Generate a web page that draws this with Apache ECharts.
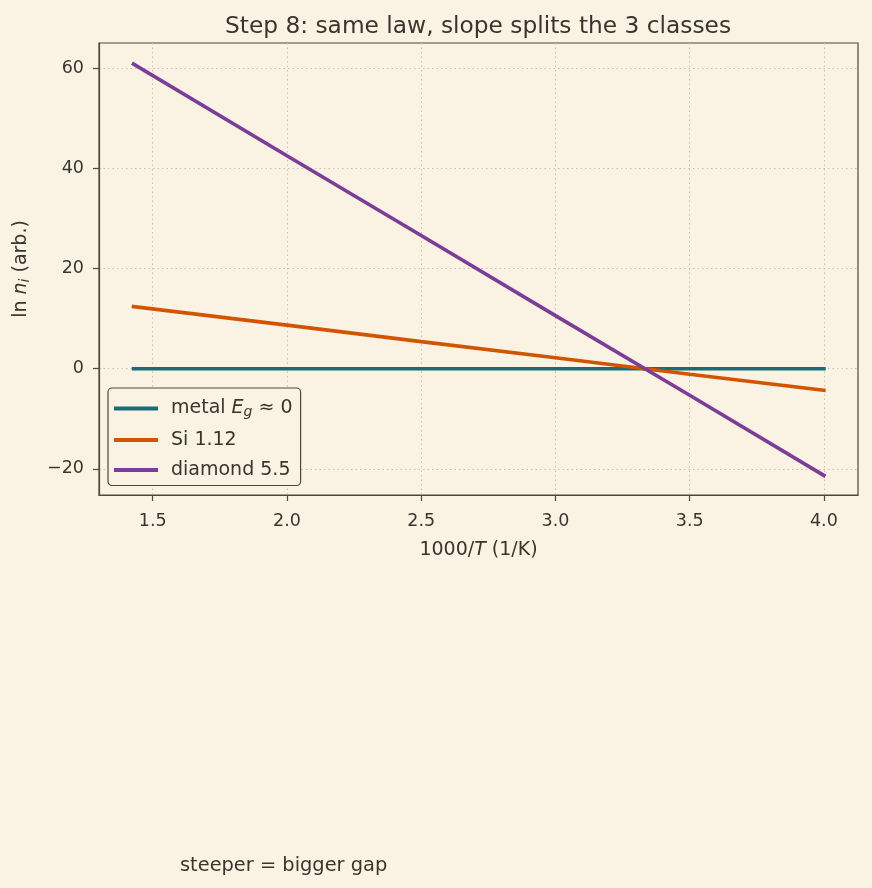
<!DOCTYPE html>
<html>
<head>
<meta charset="utf-8">
<style>
	html, body { margin: 0; padding: 0; background: #faf3e3; }
	#chart { width: 872px; height: 888px; }
</style>
<script src="https://cdn.jsdelivr.net/npm/echarts@6/dist/echarts.min.js"></script>
</head>
<body>
<div id="chart"></div>
<script>
// 1000/T values (1/K)
const invT = [1.4286, 2.0, 2.5, 3.0, 3.5, 4.0];
// ln n_i
const metal = [0, 0, 0, 0, 0, 0];
const si = [12.4, 8.7, 5.4, 2.2, -1.1, -4.3];
const diamond = [60.8, 42.5, 26.6, 10.6, -5.3, -21.3];
const xTicks = [1.5, 2.0, 2.5, 3.0, 3.5, 4.0];
const yTicks = [-20, 0, 20, 40, 60];

const ink = "#3b342d";
const axisCol = "#4f463c";
const font = "DejaVu Sans";

function pairs(ys) {
	return invT.map((x, i) => [x, ys[i]]);
}

let myChart = echarts.init(document.getElementById("chart"));
let lineStyleFor = (c) => ({ color: c, width: 3.6, cap: "square" });

let option = {
	backgroundColor: "#faf3e3",
	textStyle: { fontFamily: font, color: ink },
	animation: false,
	title: {
		text: "Step 8: same law, slope splits the 3 classes",
		left: 473,
		textAlign: "center",
		top: 10,
		textStyle: { fontFamily: font, fontSize: 23.3, fontWeight: "normal", color: ink }
	},
	grid: {
		left: 99,
		top: 43,
		right: 14,
		bottom: 393,
		show: true,
		borderColor: axisCol,
		borderWidth: 1.2,
		backgroundColor: "transparent"
	},
	legend: {
		orient: "vertical",
		left: 108,
		top: 388,
		itemWidth: 44,
		itemHeight: 4,
		itemGap: 11,
		icon: "rect",
		padding: [11, 8, 6, 6],
		backgroundColor: "#faf3e3",
		borderColor: axisCol,
		borderWidth: 1.2,
		borderRadius: 4,
		textStyle: {
			fontFamily: font,
			fontSize: 19,
			color: ink,
			padding: [0, 0, 0, 8],
			rich: {
				it: { fontFamily: font, fontSize: 19, fontStyle: "italic", color: ink },
				sub: { fontFamily: font, fontSize: 14, fontStyle: "italic", color: ink, padding: [8, 0, 0, 0] }
			}
		},
		formatter: function (name) {
			if (name === "metal") return "metal {it|E}{sub|g} ≈ 0";
			return name;
		},
		data: ["metal", "Si 1.12", "diamond 5.5"]
	},
	xAxis: {
		type: "value",
		min: 1.3,
		max: 4.127,
		name: "1000/{i|T} (1/K)",
		nameLocation: "middle",
		nameGap: 46,
		nameTextStyle: {
			fontFamily: font,
			fontSize: 19,
			color: ink,
			rich: {
				i: { fontFamily: font, fontSize: 19, fontStyle: "italic", color: ink }
			}
		},
		axisLine: { show: true, onZero: false, lineStyle: { color: axisCol, width: 1.2 } },
		axisTick: { show: true, length: 6, customValues: xTicks, lineStyle: { color: axisCol, width: 1.2 } },
		axisLabel: {
			customValues: xTicks,
			fontFamily: font,
			fontSize: 17.5,
			color: ink,
			margin: 17,
			formatter: (v) => v.toFixed(1)
		},
		splitLine: { show: true, lineStyle: { color: "#c9c0ae", type: [1.5, 3], width: 1 } }
	},
	yAxis: {
		type: "value",
		min: -25.2,
		max: 65,
		name: "{t|ln }{i|n}{s|i}{t| (arb.)}",
		nameLocation: "middle",
		nameGap: 67,
		nameRotate: 90,
		nameTextStyle: {
			fontFamily: font,
			fontSize: 19,
			color: ink,
			rich: {
				t: { fontFamily: font, fontSize: 19, color: ink },
				i: { fontFamily: font, fontSize: 19, fontStyle: "italic", color: ink },
				s: { fontFamily: font, fontSize: 14, fontStyle: "italic", color: ink, padding: [8, 0, 0, 0] }
			}
		},
		axisLine: { show: true, onZero: false, lineStyle: { color: axisCol, width: 1.2 } },
		axisTick: { show: true, length: 6, customValues: yTicks, lineStyle: { color: axisCol, width: 1.2 } },
		axisLabel: {
			customValues: yTicks,
			fontFamily: font,
			fontSize: 17.5,
			color: ink,
			margin: 15,
			formatter: (v) => (v < 0 ? "\u2212" + Math.abs(v) : String(v))
		},
		splitLine: { show: true, lineStyle: { color: "#c9c0ae", type: [1.5, 3], width: 1 } }
	},
	graphic: [
		{
			type: "text",
			left: 180,
			top: 856,
			style: { text: "steeper = bigger gap", font: "19.4px 'DejaVu Sans'", fill: ink }
		}
	],
	series: [
		{ name: "metal", type: "line", data: pairs(metal), symbol: "none", lineStyle: lineStyleFor("#1a6b73"), itemStyle: { color: "#1a6b73" }, z: 3 },
		{ name: "Si 1.12", type: "line", data: pairs(si), symbol: "none", lineStyle: lineStyleFor("#d35400"), itemStyle: { color: "#d35400" }, z: 4 },
		{ name: "diamond 5.5", type: "line", data: pairs(diamond), symbol: "none", lineStyle: lineStyleFor("#7d3c98"), itemStyle: { color: "#7d3c98" }, z: 5 }
	]
};
myChart.setOption(option);
</script>
</body>
</html>
